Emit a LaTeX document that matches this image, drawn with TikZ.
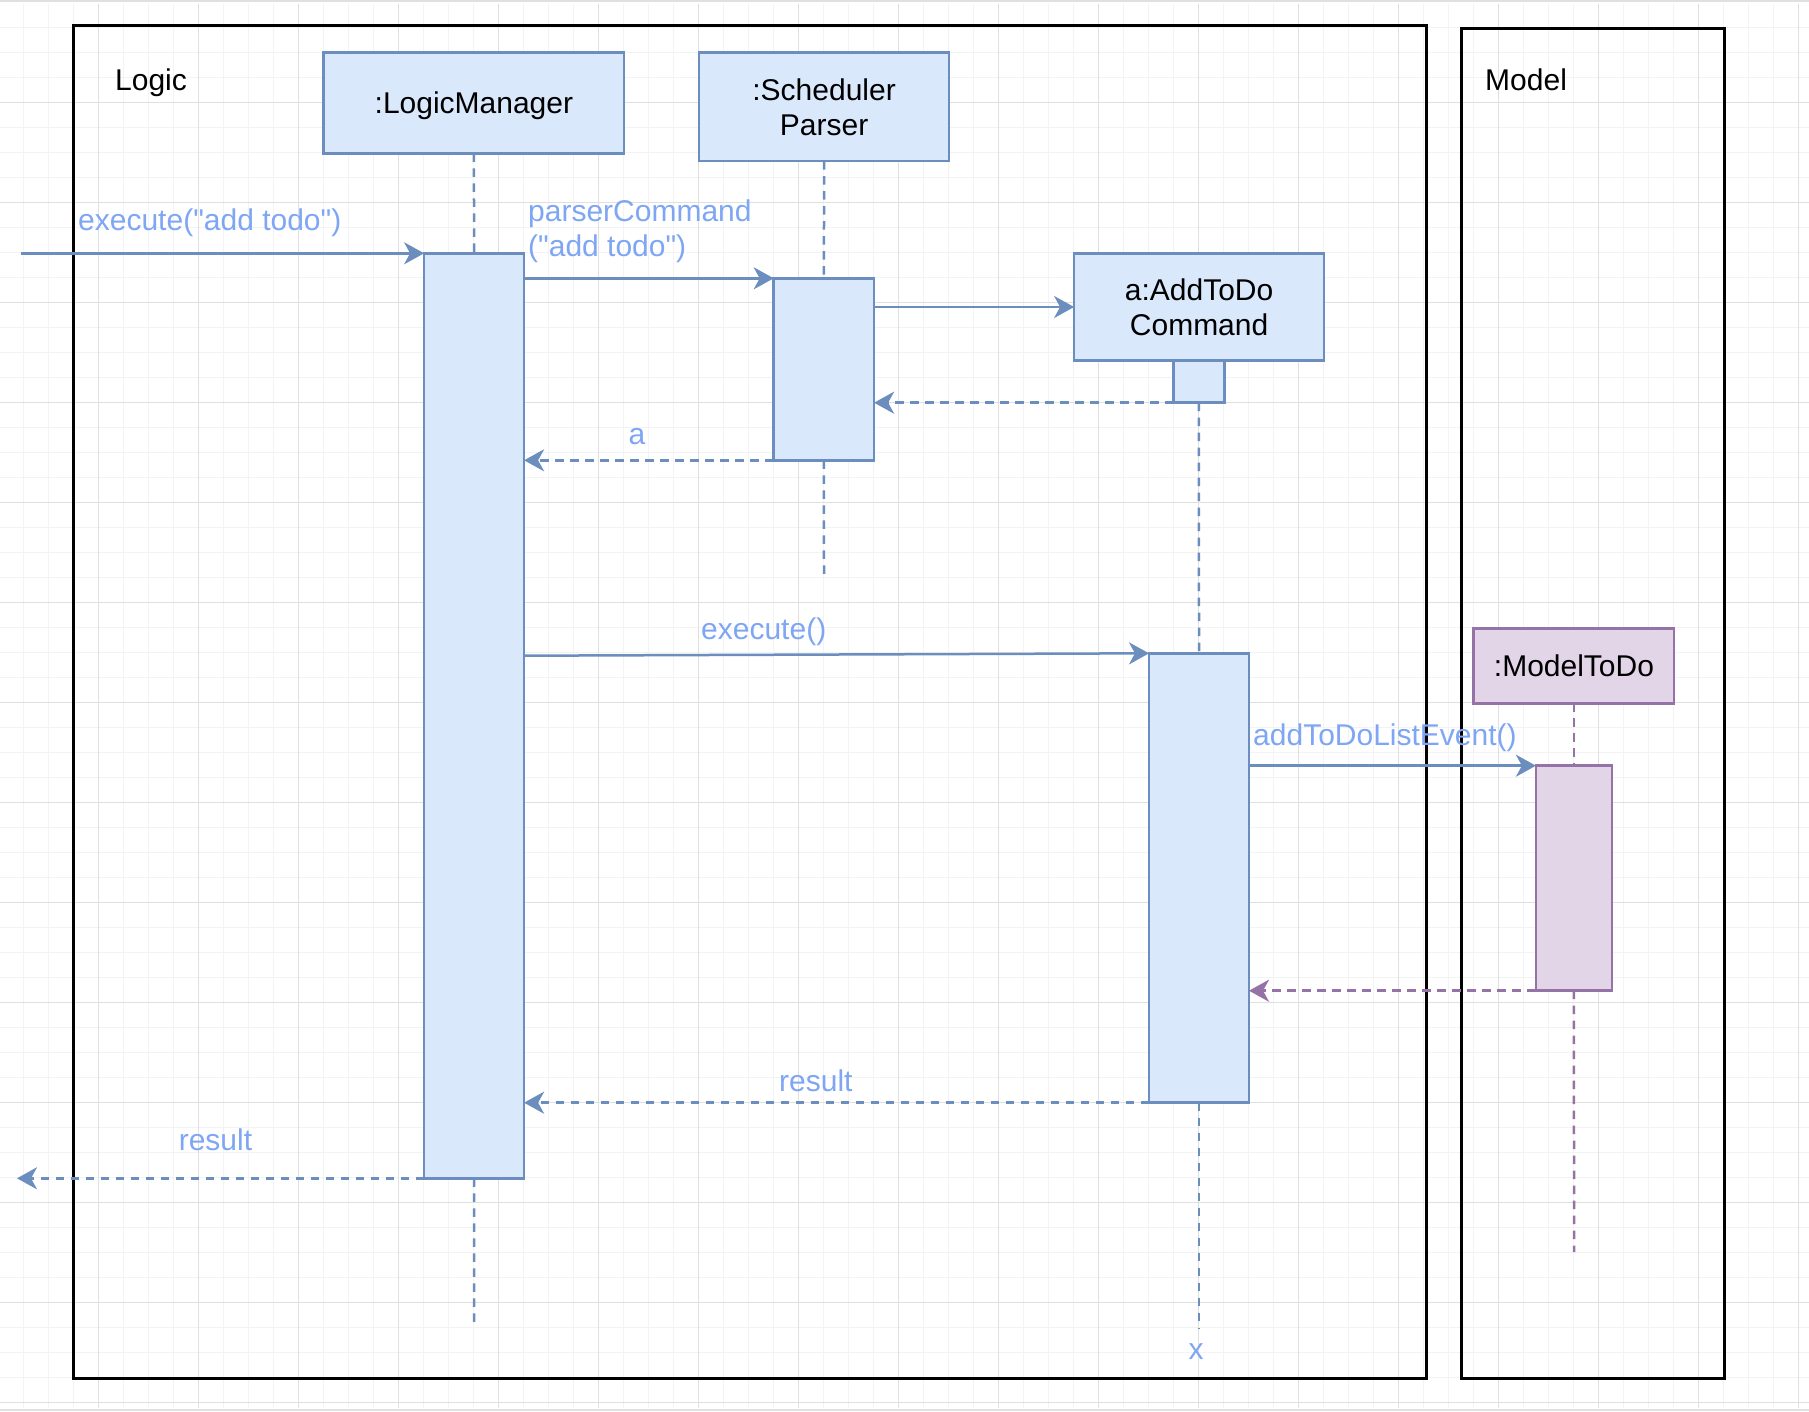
\documentclass[tikz,border=0pt]{standalone}
\usepackage{fontspec}
\setmainfont{Liberation Sans}[Ligatures=TeXOff]
\usetikzlibrary{arrows.meta}
\definecolor{bfill}{HTML}{DAE8FC}
\definecolor{bstroke}{HTML}{6C8EBF}
\definecolor{pfill}{HTML}{E1D5E7}
\definecolor{pstroke}{HTML}{9673A6}
\definecolor{lblue}{HTML}{7EA6F4}
\definecolor{gmaj}{HTML}{E0E0E0}
\definecolor{gmin}{HTML}{F3F3F3}
\newcommand\diagfont{\fontsize{30}{35}\selectfont}
\begin{document}
\begin{tikzpicture}[x=1pt,y=-1pt,
  every node/.style={font=\diagfont},
  frame/.style={draw=black, line width=3pt, inner sep=0pt, outer sep=0pt, anchor=north west},
  lbox/.style={draw=bstroke, fill=bfill, line width=2.5pt, inner sep=0pt, outer sep=0pt, align=center, text depth=-4.5pt, anchor=north west},
  pbox/.style={draw=pstroke, fill=pfill, line width=2.5pt, inner sep=0pt, outer sep=0pt, align=center, text depth=-2pt, anchor=north west},
  tip/.style={-{Stealth[length=20pt, width=22pt, inset=6pt]}},
  msg/.style={draw=bstroke, line width=2.5pt, tip},
  ret/.style={msg, dash pattern=on 8.5pt off 6.5pt},
  pret/.style={draw=pstroke, line width=2.5pt, tip, dash pattern=on 8.5pt off 6.5pt},
  life/.style={draw=bstroke, line width=2.5pt, dash pattern=on 8.5pt off 6.5pt},
  plife/.style={draw=pstroke, line width=2.5pt, dash pattern=on 8.5pt off 6.5pt},
  lbl/.style={text=lblue, inner sep=0pt, anchor=base west},
  title/.style={text=black, inner sep=0pt, anchor=base west}]
\useasboundingbox (0,0) rectangle (1809,1411);
\fill[white] (0,0) rectangle (1809,1411);

% background grid
\foreach \gx in {23.5,48.5,...,1809} \draw[gmin, line width=1pt] (\gx,4) -- (\gx,1408);
\foreach \gy in {27.3,52.3,...,1409} \draw[gmin, line width=1pt] (0,\gy) -- (1809,\gy);
\foreach \gx in {98.5,198.5,...,1809} \draw[gmaj, line width=1.2pt] (\gx,4) -- (\gx,1408);
\foreach \gy in {102.3,202.3,...,1409} \draw[gmaj, line width=1.2pt] (0,\gy) -- (1809,\gy);
\fill[gmaj] (0,0) rectangle (1809,2);
\fill[gmaj] (0,1409) rectangle (1809,1411);

% component frames
\node[frame, minimum width=1352.3pt, minimum height=1352.6pt] (logic) at (73.7,25.4) {};
\node[frame, minimum width=262.5pt, minimum height=1349.5pt] (model) at (1461.5,28.5) {};
\node[title] (logicT) at (115,90) {Logic};
\node[title] (modelT) at (1485,90) {Model};

% participants
\node[lbox, minimum width=300.4pt, minimum height=100.6pt] (lm) at (323.7,52.7) {:LogicManager};
\node[lbox, minimum width=250pt, minimum height=108.3pt] (sp) at (699.1,52.7) {:Scheduler\\Parser};
\node[lbox, minimum width=250pt, minimum height=107.4pt] (add) at (1074.1,253.3) {a:AddToDo\\Command};
\node[lbox, minimum width=50.8pt, minimum height=42pt] (small) at (1173.5,360.7) {};
\node[pbox, minimum width=200.5pt, minimum height=75pt] (mbox) at (1473.7,628.3) {:ModelToDo};

% activation bars
\node[lbox, minimum width=100pt, minimum height=925pt] (lmact) at (424.1,253.3) {};
\node[lbox, minimum width=100.4pt, minimum height=182pt] (spact) at (773.7,278.3) {};
\node[lbox, minimum width=100pt, minimum height=449.4pt] (addact) at (1149,653.3) {};
\node[pbox, minimum width=76.1pt, minimum height=225pt] (mact) at (1535.9,765.7) {};

% free ends
\coordinate (inStart) at (21,253.3);
\coordinate (outEnd) at (17,1178.3);
\coordinate (lmEnd) at (474,1328);
\coordinate (spEnd) at (824,577);
\coordinate (addEnd) at (1199,1328);
\coordinate (mEnd) at (1574,1252);
\coordinate (exStart) at (524.1,655.7);

% lifelines
\draw[life] (lm.south) -- (lmact.north);
\draw[life] (lmact.south) -- (lmEnd);
\draw[life] (sp.south) -- (spact.north);
\draw[life] (spact.south) -- (spEnd);
\draw[life] (small.south) -- (addact.north);
\draw[life] (addact.south) -- (addEnd);
\draw[plife] (mbox.south) -- (mact.north);
\draw[plife] (mact.south) -- (mEnd);

% messages
\draw[msg] (inStart) -- (lmact.north west);
\draw[msg] (lmact.east |- spact.north west) -- (spact.north west);
\draw[msg] (spact.east |- add.west) -- (add.west);
\draw[ret] (small.south west) -- (spact.east |- small.south west);
\draw[ret] (spact.south west) -- (lmact.east |- spact.south west);
\draw[msg] (exStart) -- (addact.north west);
\draw[msg] (addact.east |- mact.north west) -- (mact.north west);
\draw[pret] (mact.south west) -- (addact.east |- mact.south west);
\draw[ret] (addact.south west) -- (lmact.east |- addact.south west);
\draw[ret] (lmact.south west) -- (outEnd);

% message labels
\node[lbl] (l1) at (78,230) {execute("add todo")};
\node[lbl, align=left] (l2) at (528,256) {parserCommand\\("add todo")};
\node[lbl] (l3) at (628.5,444.3) {a};
\node[lbl] (l4) at (701,639) {execute()};
\node[lbl] (l5) at (1253,745) {addToDoListEvent()};
\node[lbl] (l6) at (779,1091.7) {result};
\node[lbl] (l7) at (178.6,1150.7) {result};
\node[lbl, anchor=base] (l8) at (1196,1359) {x};
\end{tikzpicture}
\end{document}
